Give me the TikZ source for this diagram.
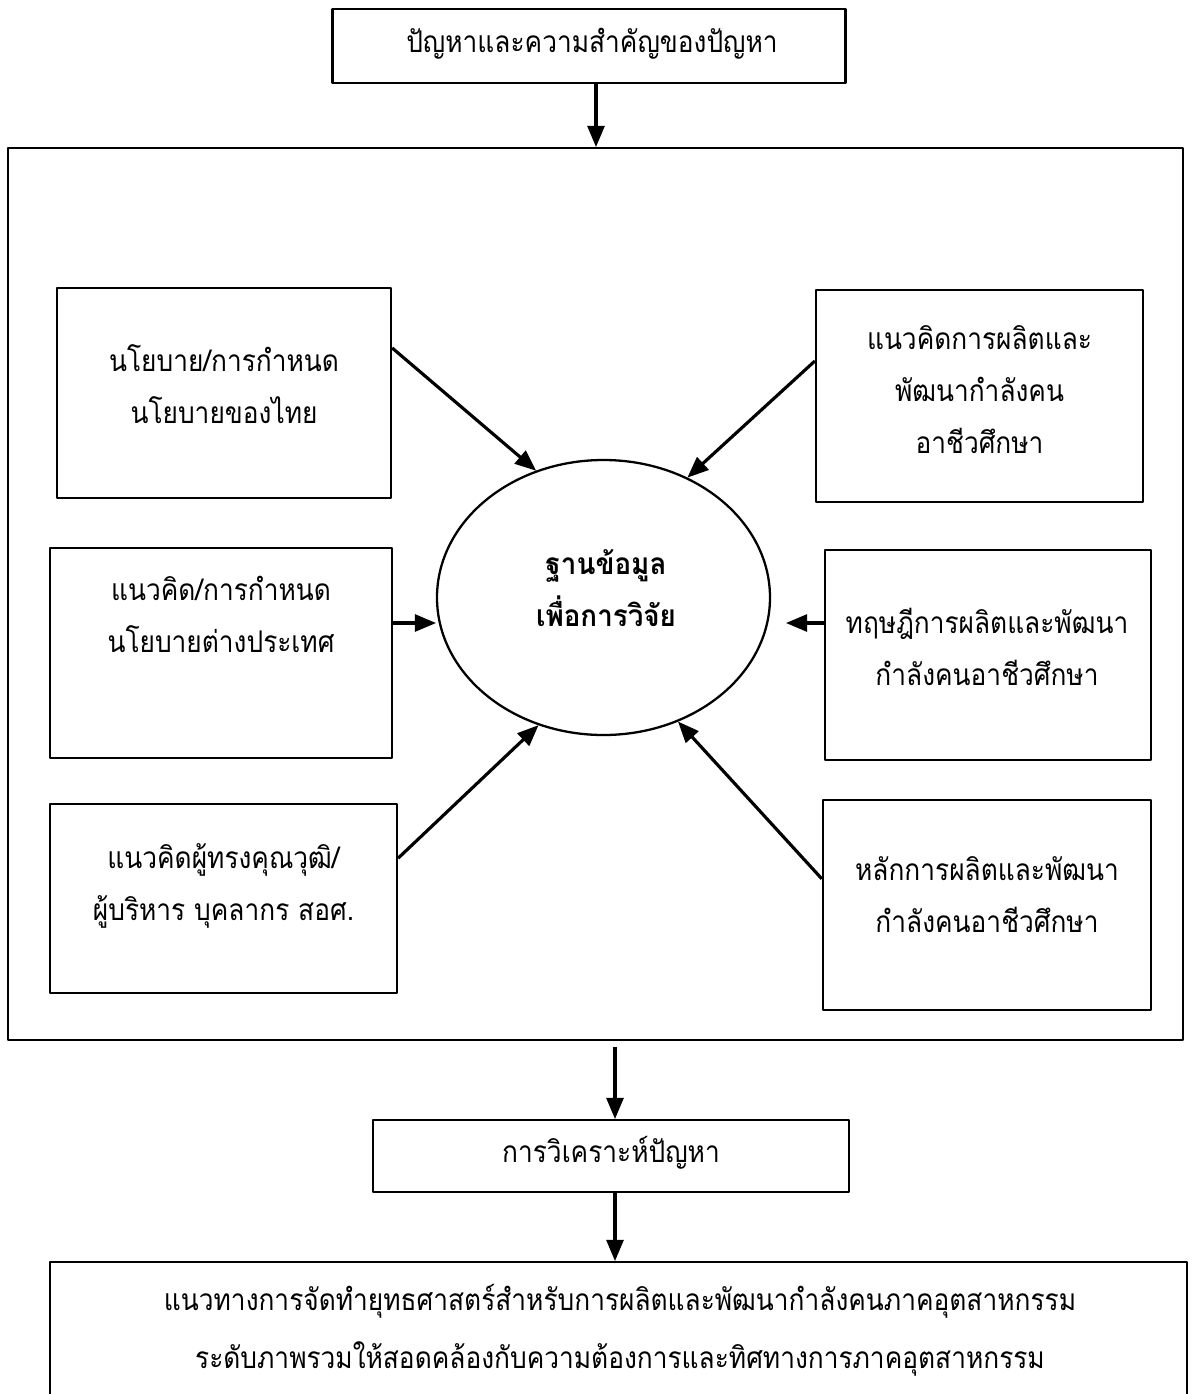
\documentclass[tikz,border=0pt]{standalone}
\usepackage{fontspec}
\newfontfamily\thai[Script=Thai,FakeStretch=0.88]{Loma}
\newfontfamily\thaiw[Script=Thai,FakeStretch=0.93]{Loma}
\usepackage{tikz}
\usetikzlibrary{arrows}
\usetikzlibrary{shapes.geometric}
\tikzset{box/.style={draw, line width=1.3pt, rectangle, inner sep=0pt}}
\tikzset{t/.style={font=\thai\fontsize{17}{29.6}\selectfont, align=center, inner sep=0pt}}
\tikzset{tb/.style={font=\thaiw\bfseries\fontsize{17}{30}\selectfont, align=center, inner sep=0pt}}
\tikzset{tn/.style={font=\thai\fontsize{17}{33}\selectfont, align=center, inner sep=0pt}}
\tikzset{arr/.style={-triangle 45, line width=1.8pt}}

\begin{document}
\begin{tikzpicture}[x=0.2mm, y=-0.2mm, line join=round]
            \useasboundingbox (0,0) rectangle (1194,1394);
            \node[box, minimum width=102.6mm, minimum height=14.8mm] (prob) at (589,46) {};
            \node[t] (tprob) at (592,44) {ปัญหาและความสำคัญของปัญหา};
            \node[box, minimum width=235mm, minimum height=178.4mm] (frame) at (595.5,594) {};
            \node[box, minimum width=66.8mm, minimum height=42mm] (pol) at (224,393) {};
            \node[t] (tpol) at (224,384) {นโยบาย/การกำหนด\\นโยบายของไทย};
            \node[box, minimum width=68.4mm, minimum height=42mm] (polf) at (221,653) {};
            \node[t] (tpolf) at (221,614) {แนวคิด/การกำหนด\\นโยบายต่างประเทศ};
            \node[box, minimum width=69.4mm, minimum height=37.8mm] (expt) at (223.5,898.5) {};
            \node[t] (texpt) at (223.5,886) {แนวคิดผู้ทรงคุณวุฒิ/\\ผู้บริหาร บุคลากร สอศ.};
            \node[box, minimum width=65.4mm, minimum height=42.4mm] (conc) at (979.5,396) {};
            \node[t] (tconc) at (979.5,390) {แนวคิดการผลิตและ\\พัฒนากำลังคน\\อาชีวศึกษา};
            \node[box, minimum width=65.2mm, minimum height=42mm] (theo) at (988,655) {};
            \node[t] (ttheo) at (987,647) {ทฤษฎีการผลิตและพัฒนา\\กำลังคนอาชีวศึกษา};
            \node[box, minimum width=65.6mm, minimum height=42mm] (prin) at (987,905) {};
            \node[t] (tprin) at (987,895) {หลักการผลิตและพัฒนา\\กำลังคนอาชีวศึกษา};
            \node[draw, ellipse, line width=1.3pt, minimum width=66.6mm, minimum height=55mm, inner sep=0pt] (db) at (603.5,597.5) {};
            \node[tb] (tdb) at (606,588) {ฐานข้อมูล\\เพื่อการวิจัย};
            \node[box, minimum width=95.2mm, minimum height=14.4mm] (anal) at (611,1156) {};
            \node[t] (tanal) at (611,1153) {การวิเคราะห์ปัญหา};
            \node[box, minimum width=227.4mm, minimum height=31.6mm] (guide) at (618.5,1341) {};
            \node[tn] (tguide) at (620,1330) {แนวทางการจัดทำยุทธศาสตร์สำหรับการผลิตและพัฒนากำลังคนภาคอุตสาหกรรม\\ระดับภาพรวมให้สอดคล้องกับความต้องการและทิศทางการภาคอุตสาหกรรม};
            \draw[arr] ([xshift=1.4mm]prob.south) -- ([xshift=1.4mm]prob.south |- frame.north);
            \draw[arr] (pol.15) -- (db.118);
            \draw[arr] (conc.168) -- (db.55);
            \draw[arr] ([yshift=6mm]polf.east) -- ([yshift=6mm]polf.east -| db.west);
            \draw[arr, shorten >=3mm] ([yshift=6.4mm]theo.west) -- ([yshift=6.4mm]theo.west -| db.east);
            \draw[arr] (expt.13.5) -- (db.-117.7);
            \draw[arr] (prin.171.4) -- (db.-59.4);
            \draw[arr, shorten <=1.2mm] (frame.south -| anal.north) ++(0.8mm,0) -- ([xshift=0.8mm]anal.north);
            \draw[arr] ([xshift=0.8mm]anal.south) -- ([xshift=0.8mm]anal.south |- guide.north);
          \end{tikzpicture}
\end{document}
